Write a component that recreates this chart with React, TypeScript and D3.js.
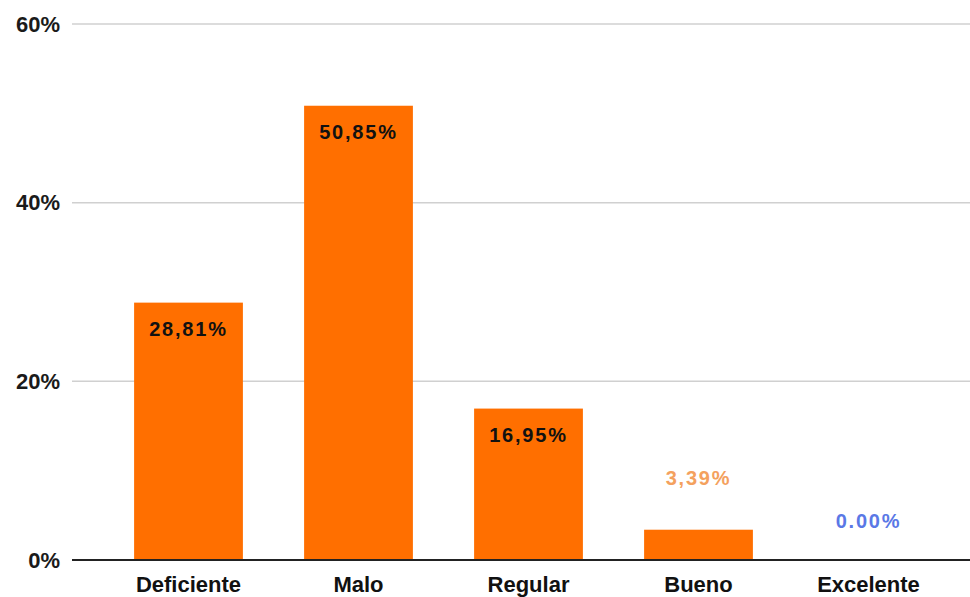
import React from "react";
import * as d3 from "d3";

const categories = ["Deficiente", "Malo", "Regular", "Bueno", "Excelente"];
const values = [28.81, 50.85, 16.95, 3.39, 0.0];
const valueLabels = ["28,81%", "50,85%", "16,95%", "3,39%", "0.00%"];
const yTicks = [0, 20, 40, 60];

const W = 970;
const H = 597;

export default function App() {
  const y = d3.scaleLinear().domain([0, 60]).range([560, 24]);
  const x = d3
    .scaleBand<string>()
    .domain(categories)
    .range([103.5, 953.5])
    .paddingInner(0.36)
    .paddingOuter(0.18);
  const font = "'Liberation Sans', Arial, sans-serif";
  return (
    <svg
      width={W}
      height={H}
      style={{ position: "absolute", left: 0, top: 0, background: "#fff" }}
    >
      {yTicks.map((t) => (
        <g key={t}>
          {t > 0 && (
            <line x1={72} x2={970} y1={y(t)} y2={y(t)} stroke="#d0d0d0" strokeWidth={1.5} />
          )}
          <text
            x={60}
            y={y(t)}
            dy="0.35em"
            textAnchor="end"
            fontFamily={font}
            fontWeight="bold"
            fontSize={22}
            fill="#1a1a1a"
          >
            {t}%
          </text>
        </g>
      ))}
      {categories.map((c, i) => {
        const bx = x(c)!;
        const bw = x.bandwidth();
        const top = y(values[i]);
        const cx = bx + bw / 2;
        const inside = values[i] > 10;
        let labelY = inside ? top + 33 : top - 45;
        if (values[i] === 0) labelY = 528;
        const color = inside ? "#111" : values[i] > 0 ? "#f4a15e" : "#5a78e6";
        return (
          <g key={c}>
            {values[i] > 0 && (
              <rect x={bx} y={top} width={bw} height={560 - top} fill="#ff6f00" />
            )}
            <text
              x={cx}
              y={labelY}
              textAnchor="middle"
              fontFamily={font}
              fontWeight="bold"
              fontSize={20}
              letterSpacing={1.8}
              fill={color}
            >
              {valueLabels[i]}
            </text>
            <text
              x={cx}
              y={592}
              textAnchor="middle"
              fontFamily={font}
              fontWeight="bold"
              fontSize={22}
              fill="#111"
            >
              {c}
            </text>
          </g>
        );
      })}
      <line x1={72} x2={970} y1={y(0)} y2={y(0)} stroke="#222" strokeWidth={2} />
    </svg>
  );
}
